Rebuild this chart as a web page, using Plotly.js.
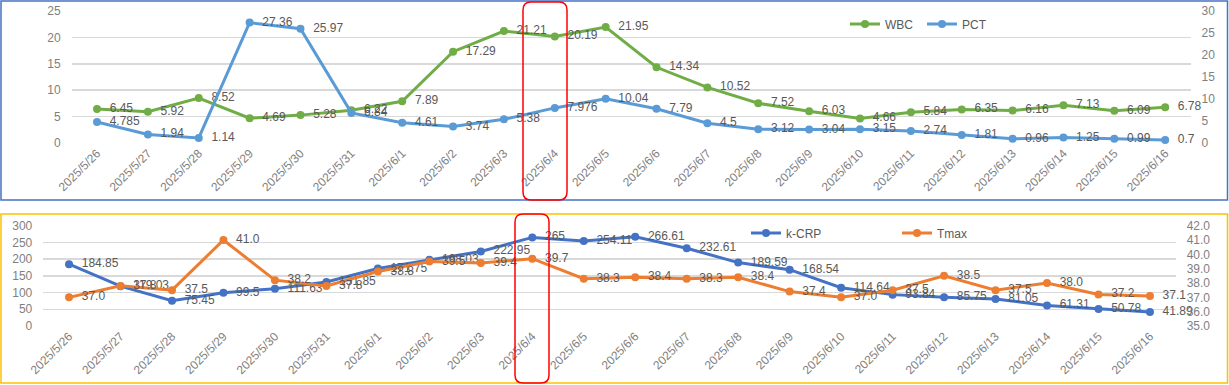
<!DOCTYPE html>
<html>
<head>
<meta charset="utf-8">
<script src="https://cdn.plot.ly/plotly-3.0.1.min.js"></script>
<style>
html,body{margin:0;padding:0;background:#fff;}
#chart{width:1229px;height:385px;}
</style>
</head>
<body>
<div id="chart"></div>
<script>
const dates = ["2025/5/26","2025/5/27","2025/5/28","2025/5/29","2025/5/30","2025/5/31","2025/6/1","2025/6/2","2025/6/3","2025/6/4","2025/6/5","2025/6/6","2025/6/7","2025/6/8","2025/6/9","2025/6/10","2025/6/11","2025/6/12","2025/6/13","2025/6/14","2025/6/15","2025/6/16"];
const wbc = [6.45,5.92,8.52,4.69,5.28,6.22,7.89,17.29,21.21,20.19,21.95,14.34,10.52,7.52,6.03,4.66,5.84,6.35,6.16,7.13,6.09,6.78];
const pct = [4.785,1.94,1.14,27.36,25.97,6.84,4.61,3.74,5.38,7.976,10.04,7.79,4.5,3.12,3.04,3.15,2.74,1.81,0.96,1.25,0.99,0.7];
const crp = [184.85,119.03,75.45,99.5,111.63,131.85,171.75,198.03,222.95,265,254.11,266.61,232.61,189.59,168.54,114.64,93.84,85.75,81.05,61.31,50.78,41.89];
const tmax = [37.0,37.8,37.5,41.0,38.2,37.8,38.8,39.5,39.4,39.7,38.3,38.4,38.3,38.4,37.4,37.0,37.5,38.5,37.5,38.0,37.2,37.1];

const W = 1229, H = 385;
const px = x => x / W;
const py = y => 1 - y / H;

const FONT = '"Liberation Sans", Arial, sans-serif';
const labelFont = {family: FONT, size: 12, color: '#595959'};
const tickFont = {family: FONT, size: 12, color: '#7F7F7F'};
const PAD = '\u00A0\u00A0';

function series(name, x, y, txt, color, xa, ya, leg) {
  return {
    x: x, y: y, name: name, type: 'scatter', mode: 'lines+markers+text',
    text: txt.map(t => PAD + t), textposition: 'middle right', textfont: labelFont,
    line: {color: color, width: 3}, marker: {color: color, size: 8},
    xaxis: xa, yaxis: ya, legend: leg, cliponaxis: false, hoverinfo: 'x+y+name'
  };
}

const traces = [
  series('WBC', dates, wbc, wbc.map(String), '#70AD47', 'x', 'y', 'legend'),
  series('PCT', dates, pct, pct.map(String), '#5B9BD5', 'x', 'y2', 'legend'),
  series('k-CRP', dates, crp, crp.map(String), '#4472C4', 'x2', 'y3', 'legend2'),
  series('Tmax', dates, tmax, tmax.map(v => v.toFixed(1)), '#ED7D31', 'x2', 'y4', 'legend2')
];

function roundRect(x0, y0, x1, y1, r) {
  const X = v => px(v).toFixed(5), Y = v => py(v).toFixed(5);
  return 'M' + X(x0 + r) + ',' + Y(y0) +
    ' L' + X(x1 - r) + ',' + Y(y0) +
    ' Q' + X(x1) + ',' + Y(y0) + ' ' + X(x1) + ',' + Y(y0 + r) +
    ' L' + X(x1) + ',' + Y(y1 - r) +
    ' Q' + X(x1) + ',' + Y(y1) + ' ' + X(x1 - r) + ',' + Y(y1) +
    ' L' + X(x0 + r) + ',' + Y(y1) +
    ' Q' + X(x0) + ',' + Y(y1) + ' ' + X(x0) + ',' + Y(y1 - r) +
    ' L' + X(x0) + ',' + Y(y0 + r) +
    ' Q' + X(x0) + ',' + Y(y0) + ' ' + X(x0 + r) + ',' + Y(y0) + ' Z';
}

const xCommon = {
  type: 'category', tickangle: -45, tickfont: tickFont, showgrid: false,
  zeroline: false, showline: false, ticks: '', range: [-0.5, dates.length - 0.5], fixedrange: true
};
const yCommon = {
  tickfont: tickFont, zeroline: false, showline: false, ticks: '', fixedrange: true,
  ticklabelstandoff: 10
};

const layout = {
  width: W, height: H,
  margin: {l: 0, r: 0, t: 0, b: 0},
  paper_bgcolor: '#fff', plot_bgcolor: 'rgba(0,0,0,0)',
  font: {family: FONT, color: '#595959', size: 12},
  xaxis: Object.assign({}, xCommon, {domain: [px(71.6), px(1190.6)], anchor: 'y'}),
  yaxis: Object.assign({}, yCommon, {domain: [py(143), py(11)], range: [0, 25], dtick: 5, showgrid: true, gridcolor: '#D9D9D9', gridwidth: 1.5, anchor: 'x'}),
  yaxis2: Object.assign({}, yCommon, {overlaying: 'y', side: 'right', range: [0, 30], dtick: 5, showgrid: false, anchor: 'x'}),
  xaxis2: Object.assign({}, xCommon, {domain: [px(43.3), px(1175.7)], anchor: 'y3'}),
  yaxis3: Object.assign({}, yCommon, {domain: [py(326), py(225.7)], range: [0, 300], dtick: 50, showgrid: true, gridcolor: '#D9D9D9', gridwidth: 1.5, anchor: 'x2'}),
  yaxis4: Object.assign({}, yCommon, {overlaying: 'y3', side: 'right', range: [35, 42], dtick: 1, tickformat: '.1f', showgrid: false, anchor: 'x2'}),
  legend: {orientation: 'h', x: px(845), y: py(24), xanchor: 'left', yanchor: 'middle', font: labelFont, bgcolor: 'rgba(0,0,0,0)', entrywidth: 32, entrywidthmode: 'pixels'},
  legend2: {orientation: 'h', x: px(746), y: py(233), xanchor: 'left', yanchor: 'middle', font: labelFont, bgcolor: 'rgba(0,0,0,0)', entrywidth: 106, entrywidthmode: 'pixels'},
  shapes: [
    {type: 'rect', xref: 'paper', yref: 'paper', x0: px(1), x1: px(1227.5), y0: py(200), y1: py(1), line: {color: '#4472C4', width: 1.5}, layer: 'below'},
    {type: 'rect', xref: 'paper', yref: 'paper', x0: px(1), x1: px(1227.5), y0: py(383), y1: py(214), line: {color: '#FFC000', width: 1.5}, layer: 'below'},
    {type: 'path', xref: 'paper', yref: 'paper', path: roundRect(523, 2, 567, 200, 8), line: {color: '#FF0000', width: 1.5}},
    {type: 'path', xref: 'paper', yref: 'paper', path: roundRect(515, 214, 549, 383, 8), line: {color: '#FF0000', width: 1.5}}
  ],
  showlegend: true
};

Plotly.newPlot('chart', traces, layout, {displayModeBar: false, staticPlot: true});
</script>
</body>
</html>
